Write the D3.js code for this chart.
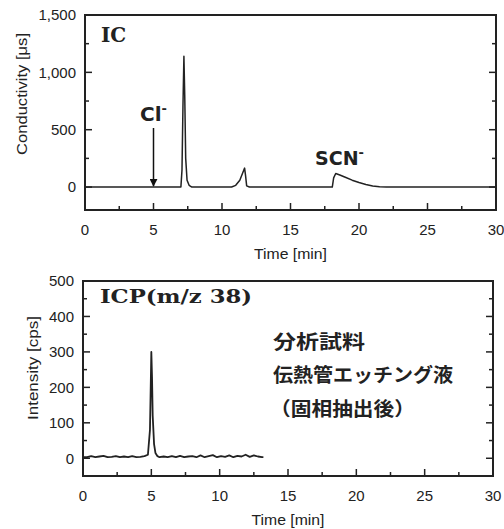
<!DOCTYPE html>
<html lang="ja">
<head>
<meta charset="UTF-8" />
<script src="https://d3js.org/d3.v7.min.js"></script>
<style>
  body { margin: 0; background: #fff; }
  svg { display: block; }
  text { fill: #222; }
</style>
</head>
<body>
<script>
// IC chromatogram (time in min, conductivity in uS)
var icTime  = [0, 7.0, 7.08, 7.15, 7.22, 7.28, 7.35, 7.45, 7.6, 7.8, 10.7, 11.0, 11.3, 11.5, 11.65, 11.72, 11.8, 12.0, 18.05, 18.15, 18.3, 18.6, 19.0, 19.5, 20.0, 20.5, 21.0, 21.5, 22.0, 30];
var icValue = [0, 0, 150, 700, 1140, 800, 250, 60, 15, 0, 0, 15, 60, 120, 165, 100, 10, 0, 0, 80, 118, 105, 85, 60, 40, 22, 10, 3, 0, 0];

// ICP-MS m/z 38 trace (time in min, intensity in cps)
var icpTime  = [0, 0.3, 0.6, 0.9, 1.2, 1.5, 1.8, 2.1, 2.4, 2.7, 3.0, 3.3, 3.6, 3.9, 4.2, 4.5, 4.75, 4.9, 5.0, 5.05, 5.1, 5.2, 5.3, 5.45, 5.6, 5.9, 6.2, 6.5, 6.8, 7.1, 7.4, 7.7, 8.0, 8.3, 8.6, 8.9, 9.2, 9.5, 9.8, 10.1, 10.4, 10.7, 11.0, 11.3, 11.6, 11.9, 12.2, 12.5, 12.8, 13.1, 13.2];
var icpValue = [3, 3, 6, 3, 5, 7, 3, 4, 6, 3, 5, 3, 6, 3, 4, 6, 10, 80, 300, 230, 120, 40, 15, 6, 3, 5, 3, 6, 3, 7, 3, 5, 6, 3, 8, 3, 6, 9, 3, 6, 4, 8, 3, 7, 5, 10, 4, 8, 5, 3, 3];

var xTicks = [0, 5, 10, 15, 20, 25, 30];
var icYTicks = [0, 500, 1000, 1500];
var icpYTicks = [0, 100, 200, 300, 400, 500];
var sampleLines = ["分析試料", "伝熱管エッチング液", "（固相抽出後）"];

var w = 504, h = 529;
var svg = d3.select("body").append("svg").attr("width", w).attr("height", h);

var tickFont = "Liberation Sans, Arial, sans-serif";

function panel(opt) {
	var x = d3.scaleLinear().domain([0, 30]).range([opt.left, opt.right]);
	var y = d3.scaleLinear().domain(opt.yDomain).range([opt.bottom, opt.top]);
	var g = svg.append("g");

	// inward ticks
	var xt = d3.range(0, 30.01, 2.5);
	g.selectAll(".xt").data(xt).enter().append("line")
		.attr("x1", function (d) { return x(d); })
		.attr("x2", function (d) { return x(d); })
		.attr("y1", opt.bottom)
		.attr("y2", function (d) { return opt.bottom - (d % 5 === 0 ? 7 : 4); })
		.attr("stroke", "#222").attr("stroke-width", 1.5);

	var yt = d3.range(opt.yDomain[0] < 0 ? 0 : opt.yDomain[0], opt.yDomain[1] + 0.01, opt.minor);
	[opt.left, opt.right].forEach(function (edge, k) {
		var dir = k === 0 ? 1 : -1;
		g.selectAll(".yt" + k).data(yt).enter().append("line")
			.attr("x1", edge)
			.attr("x2", function (d) { return edge + dir * (d % opt.major === 0 ? 7 : 4); })
			.attr("y1", function (d) { return y(d); })
			.attr("y2", function (d) { return y(d); })
			.attr("stroke", "#222").attr("stroke-width", 1.5);
	});

	// tick labels
	g.selectAll(".xl").data(xTicks).enter().append("text")
		.attr("x", function (d) { return x(d); })
		.attr("y", opt.bottom + 25)
		.attr("text-anchor", "middle")
		.attr("font-family", tickFont).attr("font-size", 15)
		.text(function (d) { return d; });

	g.selectAll(".yl").data(opt.yTicks).enter().append("text")
		.attr("x", opt.left - 9)
		.attr("y", function (d) { return y(d); })
		.attr("dy", "0.36em")
		.attr("text-anchor", "end")
		.attr("font-family", tickFont).attr("font-size", 15)
		.text(function (d) { return d3.format(",")(d); });

	// trace
	var line = d3.line()
		.x(function (d, i) { return x(opt.t[i]); })
		.y(function (d) { return y(d); });
	g.append("path").datum(opt.v)
		.attr("d", line)
		.attr("fill", "none")
		.attr("stroke", "#222")
		.attr("stroke-width", opt.lw)
		.attr("stroke-linejoin", "round");

	// frame
	g.append("rect")
		.attr("x", opt.left).attr("y", opt.top)
		.attr("width", opt.right - opt.left).attr("height", opt.bottom - opt.top)
		.attr("fill", "none").attr("stroke", "#222").attr("stroke-width", 2);

	// axis titles
	g.append("text")
		.attr("x", x(15)).attr("y", opt.bottom + 49)
		.attr("text-anchor", "middle")
		.attr("font-family", tickFont).attr("font-size", 14)
		.attr("textLength", 73).attr("lengthAdjust", "spacingAndGlyphs")
		.text("Time [min]");

	g.append("text")
		.attr("transform", "translate(" + opt.ylabX + "," + opt.ylabY + ") rotate(-90)")
		.attr("text-anchor", "middle")
		.attr("font-family", tickFont).attr("font-size", 14)
		.attr("textLength", opt.ylabLen).attr("lengthAdjust", "spacingAndGlyphs")
		.text(opt.ylab);

	return { x: x, y: y, g: g };
}

var ic = panel({
	left: 85, right: 496, top: 15, bottom: 210,
	yDomain: [-200, 1500], yTicks: icYTicks, minor: 250, major: 500,
	t: icTime, v: icValue, lw: 1.5,
	ylab: "Conductivity [μs]", ylabX: 27, ylabY: 94, ylabLen: 122
});

var icp = panel({
	left: 83, right: 493, top: 281, bottom: 476,
	yDomain: [-50, 500], yTicks: icpYTicks, minor: 50, major: 100,
	t: icpTime, v: icpValue, lw: 1.8,
	ylab: "Intensity [cps]", ylabX: 38, ylabY: 368, ylabLen: 104
});

// panel titles
svg.append("text")
	.attr("x", 101).attr("y", 42)
	.attr("font-family", "DejaVu Serif, serif").attr("font-weight", "bold").attr("font-size", 20)
	.text("IC");

svg.append("text")
	.attr("x", 100).attr("y", 303)
	.attr("font-family", "DejaVu Serif, serif").attr("font-weight", "bold").attr("font-size", 19)
	.attr("textLength", 152).attr("lengthAdjust", "spacingAndGlyphs")
	.text("ICP(m/z 38)");

// peak annotations
var cl = svg.append("text")
	.attr("x", 140).attr("y", 121)
	.attr("font-family", "DejaVu Sans, sans-serif").attr("font-weight", "bold").attr("font-size", 20);
cl.append("tspan").text("Cl");
cl.append("tspan").attr("dy", -8).attr("font-size", 13).text("-");

svg.append("defs").append("marker")
	.attr("id", "arrow").attr("viewBox", "0 0 10 10")
	.attr("refX", 9).attr("refY", 5)
	.attr("markerWidth", 8).attr("markerHeight", 8)
	.attr("orient", "auto-start-reverse")
	.attr("markerUnits", "userSpaceOnUse")
	.append("path").attr("d", "M0,0 L10,5 L0,10 z").attr("fill", "#111");

svg.append("line")
	.attr("x1", ic.x(5)).attr("x2", ic.x(5))
	.attr("y1", 128).attr("y2", ic.y(0) - 1)
	.attr("stroke", "#111").attr("stroke-width", 1.5)
	.attr("marker-end", "url(#arrow)");

var scn = svg.append("text")
	.attr("x", 315).attr("y", 165)
	.attr("font-family", "DejaVu Sans, sans-serif").attr("font-weight", "bold").attr("font-size", 19);
scn.append("tspan").text("SCN");
scn.append("tspan").attr("dy", -8).attr("font-size", 13).text("-");

// sample description
var descY = [349, 382, 416];
var descLen = [92, 180, 145];
svg.selectAll(".desc").data(sampleLines).enter().append("text")
	.attr("x", function (d, i) { return i === 2 ? 270 : 273; })
	.attr("y", function (d, i) { return descY[i]; })
	.attr("font-family", "Noto Sans CJK JP, sans-serif").attr("font-weight", "bold").attr("font-size", 19)
	.attr("textLength", function (d, i) { return descLen[i]; })
	.attr("lengthAdjust", "spacingAndGlyphs")
	.text(function (d) { return d; });
</script>
</body>
</html>
